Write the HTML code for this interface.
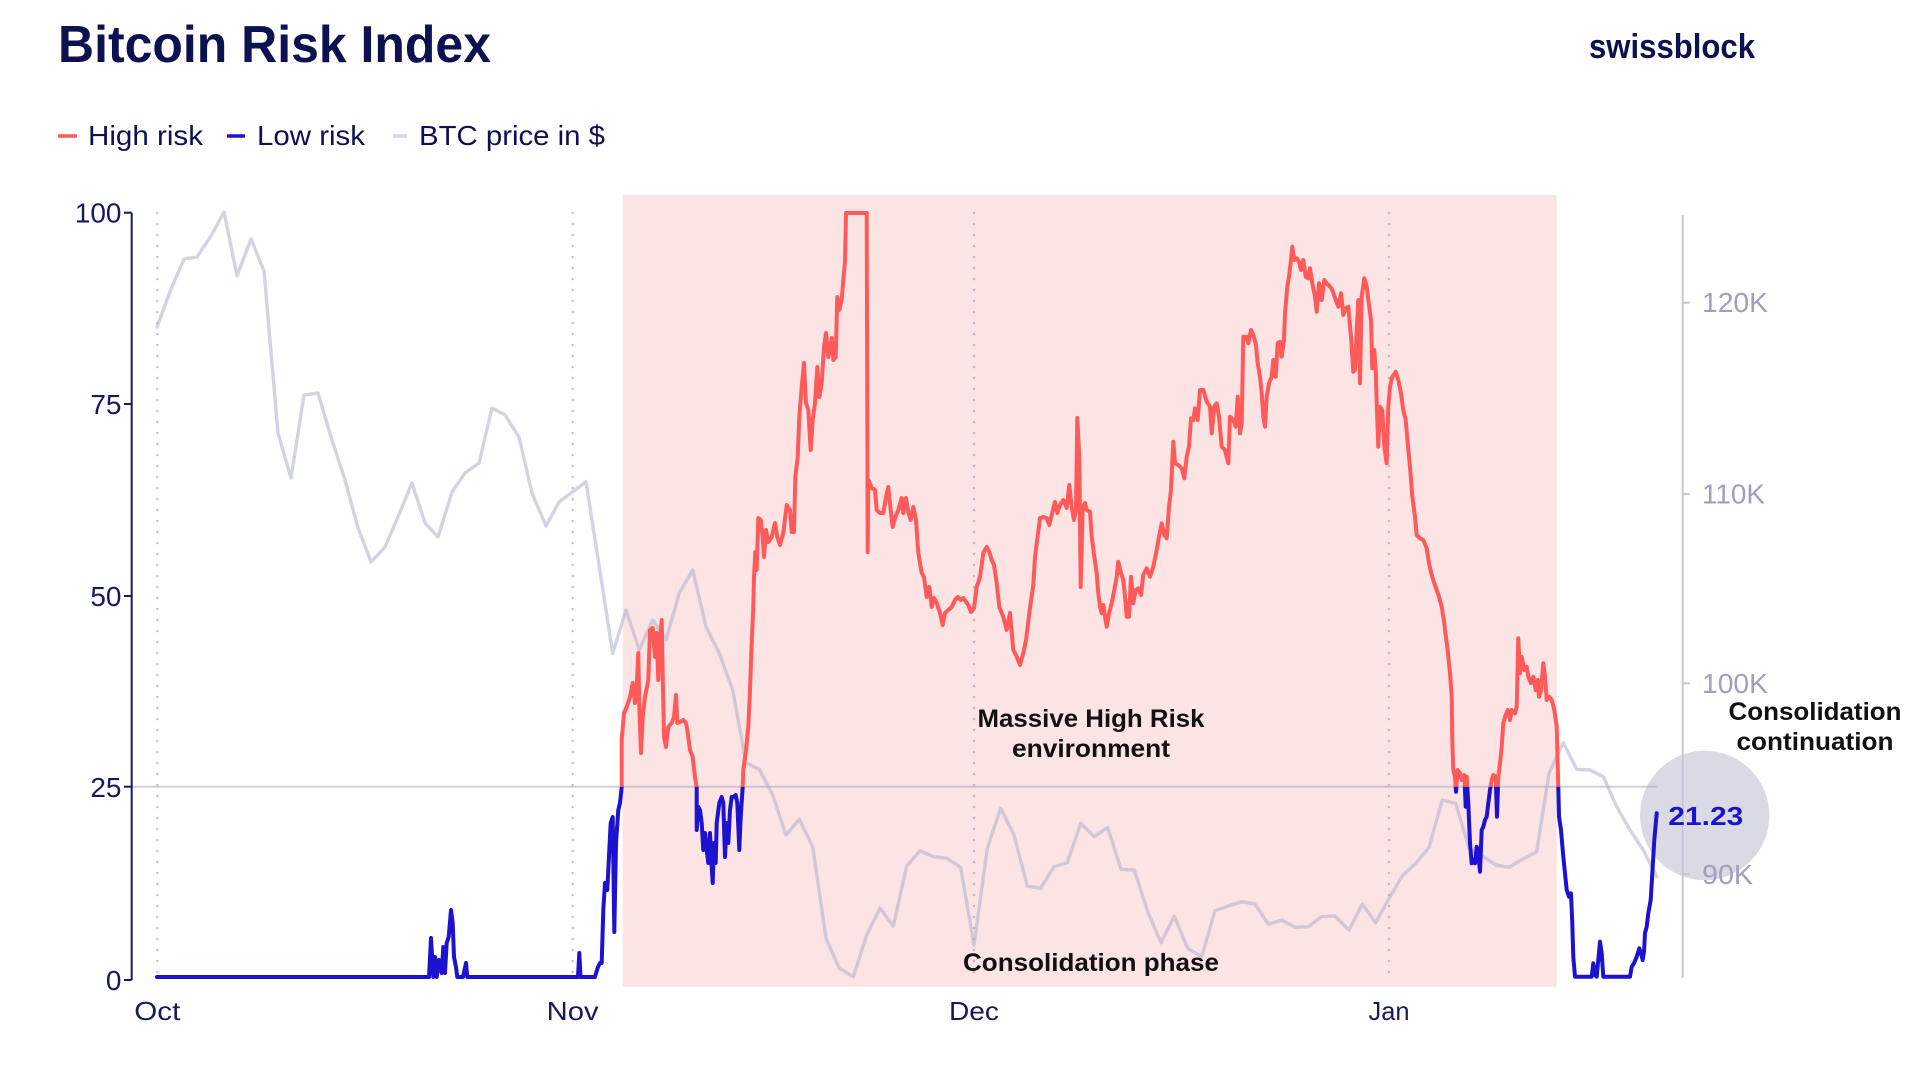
<!DOCTYPE html>
<html>
<head>
<meta charset="utf-8">
<style>
html,body{margin:0;padding:0;background:#fff;}
svg{display:block;}
text{font-family:"Liberation Sans",sans-serif;}
</style>
</head>
<body>
<svg width="1928" height="1071" viewBox="0 0 1928 1071" xmlns="http://www.w3.org/2000/svg">
<defs>
<clipPath id="above"><rect x="0" y="0" width="1928" height="786.7"/></clipPath>
<clipPath id="below"><rect x="0" y="786.7" width="1928" height="300"/></clipPath>
</defs>
<rect width="1928" height="1071" fill="#fff"/>

<!-- Title -->
<text x="58" y="62" font-size="52" font-weight="bold" fill="#0d1150" textLength="433" lengthAdjust="spacingAndGlyphs">Bitcoin Risk Index</text>
<text x="1589" y="58" font-size="34" font-weight="bold" fill="#0d1150" textLength="166" lengthAdjust="spacingAndGlyphs">swissblock</text>

<!-- Legend -->
<line x1="58" y1="136" x2="77" y2="136" stroke="#ff5a5a" stroke-width="3.5"/>
<text x="88" y="145" font-size="28" fill="#0d1150" textLength="115" lengthAdjust="spacingAndGlyphs">High risk</text>
<line x1="227" y1="136" x2="245" y2="136" stroke="#1c12cf" stroke-width="3.5"/>
<text x="257" y="145" font-size="28" fill="#0d1150" textLength="108" lengthAdjust="spacingAndGlyphs">Low risk</text>
<line x1="393" y1="136" x2="407" y2="136" stroke="#d4d5e2" stroke-width="3.5"/>
<text x="419" y="145" font-size="28" fill="#0d1150" textLength="186" lengthAdjust="spacingAndGlyphs">BTC price in $</text>

<!-- Pink high-risk region -->
<rect x="622.7" y="195" width="934" height="792" fill="#fce4e4"/>

<!-- Dotted month lines -->
<g stroke="rgba(140,140,172,0.5)" stroke-width="2.6" stroke-dasharray="0 11" stroke-linecap="round">
<line x1="157.3" y1="213" x2="157.3" y2="978"/>
<line x1="572.7" y1="213" x2="572.7" y2="978"/>
<line x1="974" y1="213" x2="974" y2="978"/>
<line x1="1389" y1="213" x2="1389" y2="978"/>
</g>

<!-- Circle highlight -->
<circle cx="1704.7" cy="815.5" r="64.7" fill="#d9dae4"/>

<!-- 25 threshold line -->
<line x1="132" y1="786.7" x2="1656.7" y2="786.7" stroke="rgba(160,162,190,0.5)" stroke-width="2"/>

<!-- Left axis -->
<g stroke="#151a5e" stroke-width="2" fill="none">
<line x1="131.7" y1="212.7" x2="131.7" y2="980"/>
<line x1="124" y1="212.7" x2="131.7" y2="212.7"/>
<line x1="124" y1="404" x2="131.7" y2="404"/>
<line x1="124" y1="596" x2="131.7" y2="596"/>
<line x1="124" y1="786.7" x2="131.7" y2="786.7"/>
<line x1="124" y1="980" x2="131.7" y2="980"/>
</g>
<g font-size="28" fill="#151a5e" text-anchor="end">
<text x="121.5" y="222.5">100</text>
<text x="121.5" y="414">75</text>
<text x="121.5" y="606">50</text>
<text x="121.5" y="797">25</text>
<text x="121.5" y="990">0</text>
</g>

<!-- Right axis -->
<g stroke="#c5c7d9" stroke-width="2">
<line x1="1682.7" y1="215" x2="1682.7" y2="978"/>
<line x1="1682.7" y1="302.7" x2="1690" y2="302.7"/>
<line x1="1682.7" y1="494" x2="1690" y2="494"/>
<line x1="1682.7" y1="683.3" x2="1690" y2="683.3"/>
<line x1="1682.7" y1="874.3" x2="1690" y2="874.3"/>
</g>
<g font-size="28" fill="#9ea0be">
<text x="1702" y="312.2" textLength="66" lengthAdjust="spacingAndGlyphs">120K</text>
<text x="1702" y="503.5" textLength="63" lengthAdjust="spacingAndGlyphs">110K</text>
<text x="1702" y="692.8" textLength="66" lengthAdjust="spacingAndGlyphs">100K</text>
<text x="1702" y="883.8" textLength="51" lengthAdjust="spacingAndGlyphs">90K</text>
</g>

<!-- X labels -->
<g font-size="26" fill="#151a5e" text-anchor="middle">
<text x="157.3" y="1020" textLength="46" lengthAdjust="spacingAndGlyphs">Oct</text>
<text x="572.7" y="1020" textLength="52" lengthAdjust="spacingAndGlyphs">Nov</text>
<text x="974" y="1020" textLength="50" lengthAdjust="spacingAndGlyphs">Dec</text>
<text x="1389" y="1020" textLength="41" lengthAdjust="spacingAndGlyphs">Jan</text>
</g>

<!-- BTC price line -->
<polyline fill="none" stroke="rgba(168,170,200,0.5)" stroke-width="3.4" stroke-linejoin="round" stroke-linecap="round" points="157,327 171,289 184,259 197,257 211,236 224,212 237,276 251,239 264,271 278,433 291,478 304,395 318,393 331,437 345,480 358,528 371,562 385,547 398,517 412,483 425,523 438,537 452,492 465,473 479,463 492,408 505,415 519,437 532,493 546,526 559,502 572.7,491.7 586,481.7 599.3,567 612.7,653.3 626,610 639.3,650 652.7,620 666,640 679.3,593 692.7,570 706,626.7 719.3,653.3 732.7,690 746,763 759.3,769.3 772.7,795 786,835 799.3,819.3 812.7,846.7 826,938.3 839.3,968.3 853.3,976.7 866.7,935 880,908.3 893.3,926 906.7,866 920,850.7 933.3,856.7 946.7,858.3 960.7,867.3 974,945 987.3,848.3 1000.7,808.3 1014,835 1027.3,886 1040.7,888.3 1054,866.7 1067.3,862.7 1080.7,823.3 1094.3,836.7 1107.7,827.3 1121,869.3 1134.3,870 1147.7,911.7 1161,942.7 1174.3,916 1187.7,948.3 1201.7,956.7 1215,910.7 1228.3,906 1241.7,901.7 1255,904 1268.3,924.3 1281.7,920 1295,927.3 1308.3,926.7 1321.7,916.7 1335,916 1349,930 1362.3,904 1375.7,922.7 1389,898.3 1402.3,876 1415.7,863.3 1429,847.3 1442.3,800 1455.7,803.3 1469,848.3 1482.3,856 1495.7,865 1509,867.3 1522.3,859.3 1536.7,851.7 1549,773.3 1563.3,742.7 1576.7,769.3 1590,770 1603.3,776.7 1616.7,806.7 1630,830 1643.3,850 1656.7,876.7"/>

<!-- Risk index line (shared geometry, coloured via clip) -->
<defs>
<polyline id="risk" fill="none" stroke-width="4" stroke-linejoin="round" stroke-linecap="round" points="157,977 429,977 431,938 433.3,977 435,957 436.7,977 439,960 441.7,973 443.3,947 445,973 446.7,943 448.7,937 451,910 452.7,923 454,957 456,967 457.3,977 463,977 466,963 467.3,977 578,977 579.3,953 580.5,977 595,977 596.7,971 598,967 600,963 601.7,963 603.3,910 605,883 607.3,890 609.3,850 610.7,823 612.7,817 614.3,932 616,843 618.3,810 620,803 621.7,787 621.7,740 624,713 626.7,707 630,697 632.7,683 635,703 636.7,687 638.3,653 639.3,707 641,753 642.7,717 645,697 648.3,680 650,630 652.7,628 655,657 656.7,633 658.3,680 660,640 661.7,620 662.7,673 664,737 666,747 668.3,727 671.7,723 674,717 676,695 677.3,723 680,722 683.3,720 686,723 687.3,730 690,750 692.7,757 695,777 696.7,787 696.7,830 698.3,807 700,810 701.7,823 703.3,850 705,833 706.7,850 708.3,863 710,833 711.7,867 712.7,883 714,843 715.7,863 716.7,823 719.3,803 721.7,797 723.3,803 725,857 726.7,823 728.3,843 730,810 731.7,797 733.3,797 735.7,795 737.3,803 739.3,850 740.7,817 742.7,787 743.3,770 746,750 748.3,727 750,690 751.7,643 753.3,607 754,577 755.3,552 756.7,570 758.3,518 760.7,520 762.7,537 764,557 766,530 768.3,542 771.7,537 775,523 777.3,537 780,545 783.3,533 786.7,505 790,510 791.7,532 794,532 795.3,477 797.7,457 799.3,417 801.7,387 804,363 806,403 808.3,410 810.7,450 812.7,420 815,403 817.3,367 819.3,397 821.7,383 824,347 826,333 828.3,357 831.7,338 833.3,360 835.7,357 837.3,297 839.3,310 841.7,300 843.3,280 845,262 846,213 866.7,213 867.7,552 868.3,480 871.7,488 875,490 876.7,510 880,513 883.3,513 886,497 888.3,487 890.7,510 892.7,527 895,518 898.3,510 901.7,498 903.3,513 906,498 908.3,512 910.7,520 913.3,507 916,520 918.3,553 921.7,573 924,577 926.7,597 929.3,587 931.7,607 934,598 936.7,603 940,613 942.7,625 945,613 948.3,610 951.7,607 955,600 957.7,597 960.7,600 963.3,598 968.3,605 971,612 974,608 976.7,587 980,577 983.3,553 986.7,547 989.3,552 991.7,560 994,565 996.7,583 999.3,607 1003.3,617 1006.7,630 1010,613 1013.3,650 1016,655 1020,665 1023.3,653 1026,640 1030,608 1033.3,585 1035,557 1040,518 1043.3,517 1046.7,518 1049.3,525 1051.7,515 1055,502 1057.3,513 1060,505 1063.3,500 1066.7,508 1069.3,485 1071.7,507 1074,520 1076,510 1077.3,418 1079.3,457 1080.7,587 1082.7,507 1085,503 1086.7,510 1090,511.7 1091.7,536.7 1094.3,556.7 1096.7,573.3 1098.3,593.3 1100,606.7 1101.7,613.3 1103.3,605 1105,616.7 1106.7,626.7 1109,613.3 1111.7,603.3 1114.3,590 1116.7,576.7 1118.3,561.7 1121,573.3 1123.3,580 1125.7,603.3 1126.7,616.7 1129,616.7 1131,576.7 1133.3,603.3 1135.7,590 1138.3,588.3 1141,595 1143.3,575 1146.7,568.3 1150,576.7 1153.3,566.7 1156.7,550 1159,536.7 1161.7,523.3 1164.3,535 1166.7,538.3 1169,506.7 1171,490 1173.3,441.7 1175,463.3 1178.3,465 1181.7,468.3 1184.3,478.3 1186.7,456.7 1189,446.7 1191,418.3 1193.3,420 1195,408.3 1197.7,420 1200,390 1203.3,390 1206.7,401.7 1210,406.7 1211.7,433.3 1214.3,406.7 1216.7,403.3 1219,416.7 1221.7,446.7 1225,450 1228.3,463.3 1230,416.7 1233.3,420 1235.7,426.7 1237.7,396.7 1240,433.3 1241.7,423.3 1243.3,336.7 1246.7,336.7 1248.3,343.3 1251,330 1253.3,335 1255.7,343.3 1257.7,363.3 1260,376.7 1261.7,393.3 1263.3,416.7 1265,426.7 1266.7,396.7 1269,383.3 1271.7,376.7 1273.3,360 1275.7,376.7 1277.7,343.3 1280,341.7 1281.7,356.7 1284,340 1285,313.3 1287.3,286.7 1289,276.7 1291,260 1292.3,246.7 1294.3,260 1296.7,258.3 1299,261.7 1301,270 1303.3,260 1305.7,276.7 1308.3,278.3 1310,268.3 1312.3,283.3 1315,296.7 1316.7,311.7 1319,283.3 1321.7,300 1324.3,280 1326.7,283.3 1330,286.7 1332.3,290 1335.7,300 1338.3,306.7 1341,293.3 1343.3,315 1345.7,308.3 1348.3,306.7 1351,336.7 1353.3,371.7 1355,370 1356.7,330 1358.3,300 1360,383.3 1361.7,296.7 1364.3,278.3 1366.7,286.7 1368.3,300 1371,320 1372.3,368.3 1374.3,350 1375.7,370 1376.7,403.3 1378.3,446.7 1380,406.7 1382.3,410 1384.3,446.7 1386.7,463.3 1388.3,406.7 1390,386.7 1392.3,376.7 1395.7,371.7 1398.3,380 1401,393.3 1403.3,410 1405.7,420 1407.7,443.3 1410,466.7 1412.3,496.7 1415,516.7 1416.7,535 1420,538.3 1423.3,540 1426.7,548.3 1429,563.3 1431.7,575 1434.3,583.3 1436.7,590 1439,596.7 1441.7,606.7 1444.3,623.3 1445,630 1447.7,650 1450,673.3 1451.7,696.7 1452.3,740 1453.3,770 1455,776.7 1456,791.7 1457.7,770 1460,773.3 1461.7,780 1464.3,775 1465.7,806.7 1466.7,776.7 1468.3,803.3 1470,843.3 1471.7,863.3 1473.3,860 1475,863.3 1476.7,846.7 1478.3,853.3 1480,871.7 1481.7,830 1483.3,826.7 1485,820 1486.7,816.7 1488.3,803.3 1490,790 1491.7,780 1493.3,775 1495.7,776.7 1497,816.7 1498.3,776.7 1500,763.3 1501.7,746.7 1503.3,723.3 1505,716.7 1507.7,710 1510,720 1511.7,710 1515,713.3 1516.7,706.7 1518.3,638.3 1520,673.3 1521.7,656.7 1524.3,670 1526.7,666.7 1528.3,676.7 1531,683.3 1533.3,676.7 1535.7,690 1537.7,680 1539,696.7 1541,690 1543.3,663.3 1545,676.7 1546.7,700 1549,696.7 1551.7,700 1554.3,710 1556.7,726.7 1558.3,786.7 1559,816.7 1561,830 1563.3,856.7 1565,873.3 1566.7,890 1569,896.7 1571,893.3 1572.3,923.3 1573.3,956.7 1575,976.7 1591.7,976.7 1593.3,963.3 1595,975 1596.7,976.7 1600,941.7 1601.7,953.3 1603.3,976.7 1630,976.7 1631.7,966.7 1634,963.3 1636.7,956.7 1639.3,948.3 1641,953.3 1642.7,960 1644,951.7 1645,933.3 1646.7,926.7 1648.3,913.3 1650.7,900 1652.7,866.7 1654.3,840 1656.7,813.3"/>
</defs>
<use href="#risk" stroke="#ff5a5a" clip-path="url(#above)"/>
<use href="#risk" stroke="#1c12cf" clip-path="url(#below)"/>

<!-- Annotations -->
<g font-weight="bold" fill="#111" text-anchor="middle">
<text x="1091" y="727" font-size="25" textLength="227" lengthAdjust="spacingAndGlyphs">Massive High Risk</text>
<text x="1091" y="757" font-size="25" textLength="158" lengthAdjust="spacingAndGlyphs">environment</text>
<text x="1091" y="971" font-size="25" textLength="256" lengthAdjust="spacingAndGlyphs">Consolidation phase</text>
<text x="1815" y="720" font-size="25" textLength="173" lengthAdjust="spacingAndGlyphs">Consolidation</text>
<text x="1815" y="750" font-size="25" textLength="157" lengthAdjust="spacingAndGlyphs">continuation</text>
</g>
<text x="1668.3" y="825" font-size="26" font-weight="bold" fill="#1c12cf" textLength="75" lengthAdjust="spacingAndGlyphs">21.23</text>
</svg>
</body>
</html>
